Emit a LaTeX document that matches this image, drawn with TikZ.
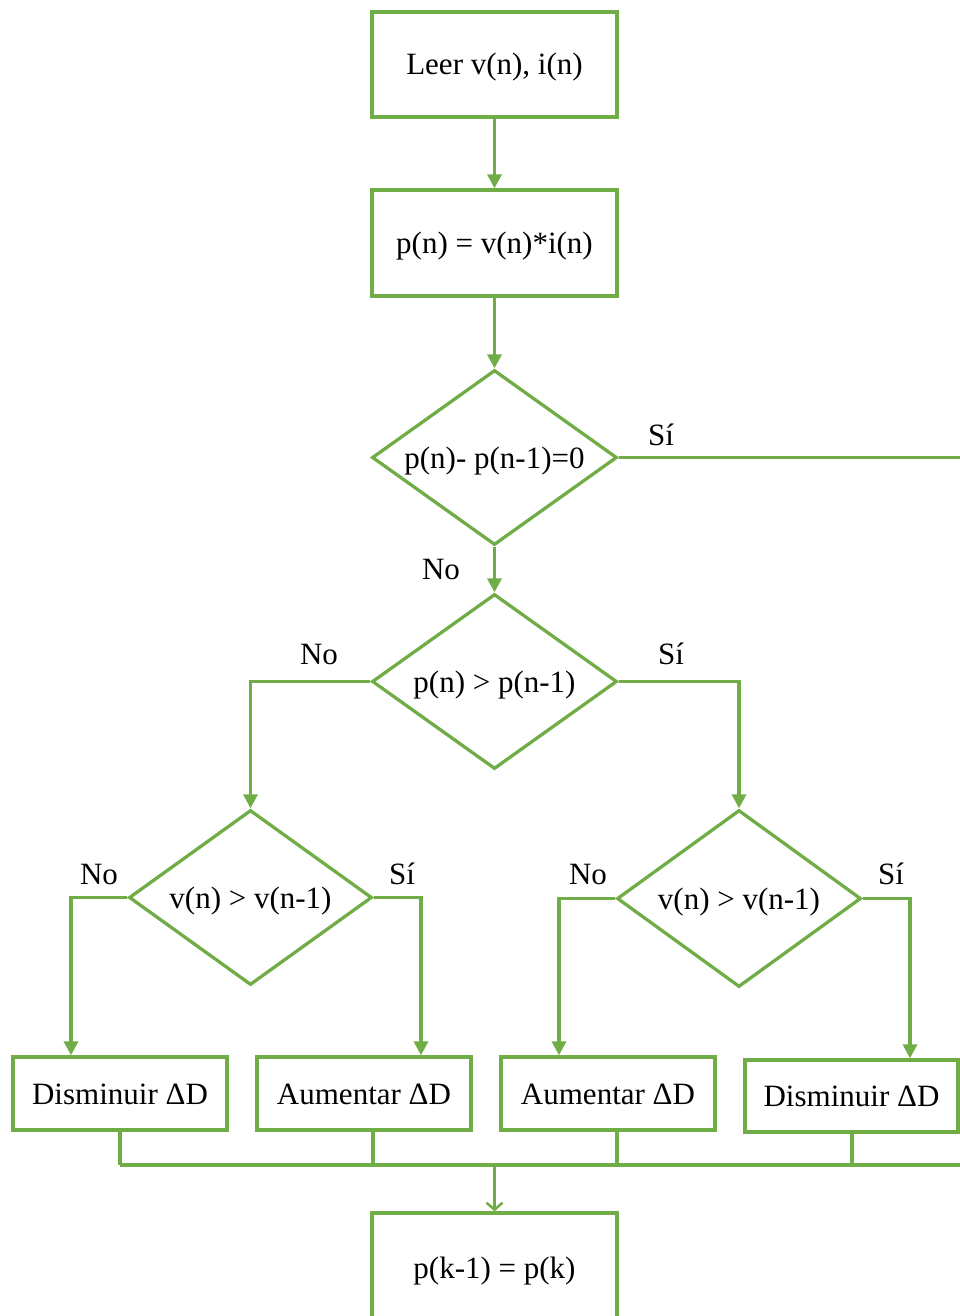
\documentclass[tikz,border=0pt]{standalone}
\usepackage{fontspec}
\setmainfont{Liberation Serif}
\usetikzlibrary{shapes.geometric,arrows.meta}
\definecolor{grn}{HTML}{70AD47}
\begin{document}
\begin{tikzpicture}[x=1pt,y=-1pt,line width=3.3pt,
  txt/.style={font=\fontsize{31}{37}\selectfont},
  box/.style={txt,draw=grn,rectangle,inner sep=0pt,text height=21pt,text depth=0pt},
  dia/.style={txt,draw=grn,diamond,aspect=1.4,inner sep=0pt,minimum width=245pt,minimum height=175pt,text height=21pt,text depth=0pt},
  lbl/.style={txt,inner sep=0pt},
  arr/.style={draw=grn,-{Triangle[length=14pt,width=14pt]}},
  varr/.style={draw=grn,-{Straight Barb[length=7pt,width=16pt,line width=2.5pt]}},
  ln/.style={draw=grn}]
\useasboundingbox (0,0) rectangle (960,1316);
\clip (0,0) rectangle (960,1316);
% nodes
\node[box,minimum width=245pt,minimum height=105pt] (b1) at (494.5,64.5) {Leer v(n), i(n)};
\node[box,minimum width=245pt,minimum height=106pt] (b2) at (494.5,243) {p(n) = v(n)*i(n)};
\node[dia] (d1) at (494.5,457.5) {p(n)- p(n-1)=0};
\node[dia] (d2) at (494.5,681.5) {p(n) > p(n-1)};
\node[dia,minimum width=243pt] (d3) at (250.5,897.5) {v(n) > v(n-1)};
\node[dia,minimum width=244pt,minimum height=177pt] (d4) at (739,898.5) {v(n) > v(n-1)};
\node[box,minimum width=214pt,minimum height=73pt] (o1) at (120,1093.5) {Disminuir ΔD};
\node[box,minimum width=214pt,minimum height=73pt] (o2) at (364,1093.5) {Aumentar ΔD};
\node[box,minimum width=214pt,minimum height=73pt] (o3) at (608,1093.5) {Aumentar ΔD};
\node[box,minimum width=213pt,minimum height=72pt] (o4) at (851.5,1096) {Disminuir ΔD};
\node[box,minimum width=245pt,minimum height=110pt] (b5) at (494.5,1268) {p(k-1) = p(k)};
% labels
\node[lbl] (s1) at (661,435) {Sí};
\node[lbl] (n1) at (441,569) {No};
\node[lbl] (n2) at (319,654) {No};
\node[lbl] (s2) at (671,654) {Sí};
\node[lbl] (n3) at (99,874) {No};
\node[lbl] (s3) at (402,874) {Sí};
\node[lbl] (n4) at (588,874) {No};
\node[lbl] (s4) at (891,874) {Sí};
% coordinates
\coordinate (e1) at (960,457.5);
\coordinate (lx2) at (250.5,681.5);
\coordinate (rx2) at (739,681.5);
\coordinate (lx3) at (71,897.5);
\coordinate (rx3) at (421,897.5);
\coordinate (lx4) at (559,898.5);
\coordinate (rx4) at (910,898.5);
\coordinate (m1) at (120,1165);
\coordinate (m2) at (373,1165);
\coordinate (m3) at (617,1165);
\coordinate (m4) at (852,1165);
\coordinate (mc) at (494.5,1165);
\coordinate (me) at (960,1165);
% connectors
\draw[arr] (b1.south) -- (b2.north);
\draw[arr] (b2.south) -- (d1.north);
\draw[ln] (d1.east) -- (e1);
\draw[arr] (d1.south) -- (d2.north);
\draw[arr] (d2.west) -- (lx2) -- (d3.north);
\draw[arr] (d2.east) -- (rx2) -- (d4.north);
\draw[arr] (d3.west) -- (lx3) -- (lx3 |- o1.north);
\draw[arr] (d3.east) -- (rx3) -- (rx3 |- o2.north);
\draw[arr] (d4.west) -- (lx4) -- (lx4 |- o3.north);
\draw[arr] (d4.east) -- (rx4) -- (rx4 |- o4.north);
\draw[ln] (o1.south -| m1) -- (m1);
\draw[ln] (o2.south -| m2) -- (m2);
\draw[ln] (o3.south -| m3) -- (m3);
\draw[ln] (o4.south -| m4) -- (m4);
\draw[ln] (m1) -- (me);
\draw[varr] (mc) -- (b5.north);
\end{tikzpicture}
\end{document}
